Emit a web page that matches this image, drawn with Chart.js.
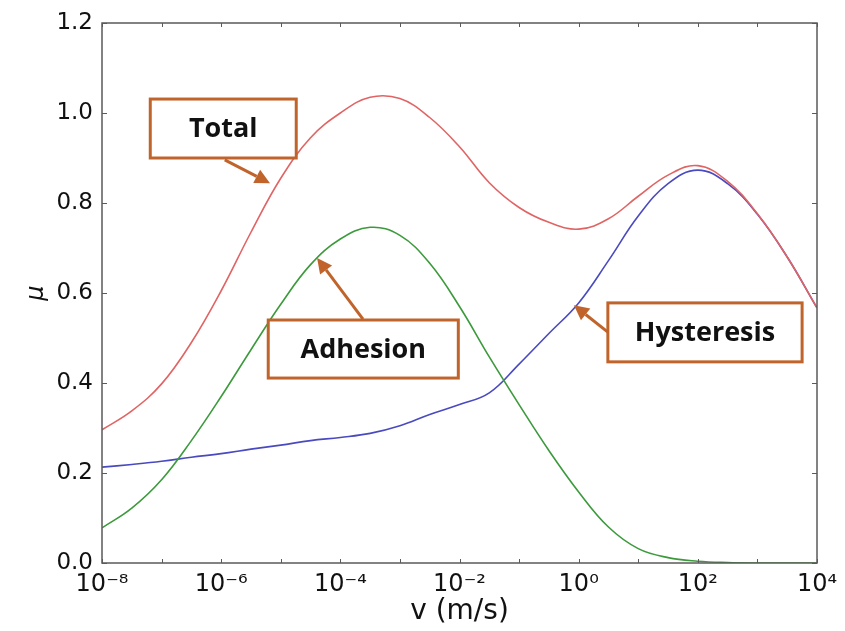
<!DOCTYPE html>
<html>
<head>
<meta charset="utf-8">
<script src="https://cdn.jsdelivr.net/npm/chart.js@4/dist/chart.umd.min.js"></script>
<style>
html,body{margin:0;padding:0;background:#ffffff;}
#wrap{width:845px;height:631px;}
</style>
</head>
<body>
<div id="wrap"><canvas id="c" width="845" height="631"></canvas></div>
<script>
// ---- data (x given as log10 of v in m/s) ----
const vExp = [-8,-7.5,-7,-6.5,-6,-5.5,-5,-4.5,-4,-3.5,-3,-2.5,-2,-1.5,-1,-0.5,0,0.5,1,1.5,2,2.5,3,3.5,4];
const total      = [0.296,0.338,0.398,0.490,0.605,0.735,0.855,0.945,1.000,1.035,1.032,0.990,0.925,0.845,0.790,0.757,0.742,0.765,0.815,0.862,0.883,0.848,0.776,0.680,0.567];
const adhesion   = [0.078,0.122,0.185,0.272,0.370,0.474,0.575,0.663,0.720,0.746,0.728,0.666,0.570,0.458,0.352,0.250,0.158,0.080,0.032,0.012,0.004,0.001,0.000,0.000,0.000];
const hysteresis = [0.213,0.219,0.226,0.235,0.243,0.253,0.262,0.272,0.279,0.288,0.305,0.330,0.352,0.378,0.442,0.510,0.578,0.672,0.771,0.843,0.873,0.843,0.775,0.680,0.567];
const seriesNames = ['Total','Adhesion','Hysteresis'];

const xTickExp = [-8,-7,-6,-5,-4,-3,-2,-1,0,1,2,3,4];
const xTickLabels = {'-8':'10⁻⁸','-6':'10⁻⁶','-4':'10⁻⁴','-2':'10⁻²','0':'10⁰','2':'10²','4':'10⁴'};
const yTicks = [0,0.2,0.4,0.6,0.8,1.0,1.2];

// annotation callouts, anchored in data units (log10 v, mu)
const notes = [
  {text:'Total',      box:[-7.19,-4.74,1.031,0.900], from:[-5.94,0.896], to:[-5.18,0.844]},
  {text:'Adhesion',   box:[-5.21,-2.02,0.540,0.411], from:[-3.62,0.542], to:[-4.39,0.678]},
  {text:'Hysteresis', box:[ 0.49, 3.75,0.578,0.447], from:[ 0.49,0.513], to:[-0.08,0.573]}
];

const pts = arr => vExp.map((e,i)=>({x:Math.pow(10,e), y:arr[i]}));

const frameTicks = {
  id:'frameTicks',
  afterDraw(chart){
    const {ctx, chartArea:a, scales:{x,y}} = chart;
    ctx.save();
    ctx.strokeStyle = '#5a5a5a';
    ctx.lineWidth = 1.5;
    ctx.strokeRect(a.left, a.top, a.right-a.left, a.bottom-a.top);
    ctx.lineWidth = 1;
    ctx.beginPath();
    xTickExp.forEach(e=>{
      const px = Math.round(x.getPixelForValue(Math.pow(10,e)))+0.5;
      ctx.moveTo(px,a.bottom); ctx.lineTo(px,a.bottom-4);
      ctx.moveTo(px,a.top); ctx.lineTo(px,a.top+4);
    });
    yTicks.forEach(v=>{
      const py = Math.round(y.getPixelForValue(v))+0.5;
      ctx.moveTo(a.left,py); ctx.lineTo(a.left+5,py);
      ctx.moveTo(a.right,py); ctx.lineTo(a.right-5,py);
    });
    ctx.stroke();
    ctx.restore();
  }
};

const callouts = {
  id:'callouts',
  afterDatasetsDraw(chart){
    const {ctx, scales:{x,y}} = chart;
    const X = e => x.getPixelForValue(Math.pow(10,e));
    const Y = v => y.getPixelForValue(v);
    const col = '#c0642c';
    ctx.save();
    notes.forEach(n=>{
      const x1=X(n.from[0]), y1=Y(n.from[1]), x2=X(n.to[0]), y2=Y(n.to[1]);
      const ang = Math.atan2(y2-y1, x2-x1);
      const hl = 15, hw = 7.5;
      const bx = x2 - hl*Math.cos(ang), by = y2 - hl*Math.sin(ang);
      ctx.strokeStyle = col; ctx.fillStyle = col; ctx.lineWidth = 3;
      ctx.beginPath(); ctx.moveTo(x1,y1); ctx.lineTo(bx,by); ctx.stroke();
      ctx.beginPath();
      ctx.moveTo(x2,y2);
      ctx.lineTo(bx + hw*Math.sin(ang), by - hw*Math.cos(ang));
      ctx.lineTo(bx - hw*Math.sin(ang), by + hw*Math.cos(ang));
      ctx.closePath(); ctx.fill();
      const l=X(n.box[0]), r=X(n.box[1]), t=Y(n.box[2]), b=Y(n.box[3]);
      ctx.fillStyle = '#ffffff';
      ctx.fillRect(l,t,r-l,b-t);
      ctx.lineWidth = 3; ctx.strokeStyle = col;
      ctx.strokeRect(l,t,r-l,b-t);
      ctx.fillStyle = '#111';
      ctx.font = 'bold 27px "Open Sans"';
      ctx.textAlign = 'center'; ctx.textBaseline = 'middle';
      ctx.fillText(n.text, (l+r)/2, (t+b)/2+1);
    });
    ctx.restore();
  }
};

new Chart(document.getElementById('c'), {
  type:'line',
  data:{
    datasets:[
      {label:seriesNames[0], data:pts(total),      borderColor:'#e06464', borderWidth:1.6, pointRadius:0, tension:0.4, fill:false},
      {label:seriesNames[1], data:pts(adhesion),   borderColor:'#3c9a3c', borderWidth:1.6, pointRadius:0, tension:0.4, fill:false},
      {label:seriesNames[2], data:pts(hysteresis), borderColor:'#4a4ac0', borderWidth:1.6, pointRadius:0, tension:0.4, fill:false}
    ]
  },
  options:{
    responsive:false,
    animation:false,
    devicePixelRatio:1,
    layout:{padding:{top:23,right:28,left:0,bottom:0}},
    plugins:{legend:{display:false}, tooltip:{enabled:false}},
    scales:{
      x:{
        type:'logarithmic', position:'bottom', min:1e-8, max:1e4,
        grid:{display:false, drawTicks:false},
        border:{display:false},
        afterBuildTicks:s=>{ s.ticks = xTickExp.map(e=>({value:Math.pow(10,e)})); },
        afterFit:s=>{ s.height = 68; },
        ticks:{
          autoSkip:false, maxRotation:0, minRotation:0, padding:7,
          color:'#111', font:{family:'DejaVu Sans', size:24},
          callback:v=>{ const e=Math.round(Math.log10(v)); return xTickLabels[String(e)]||''; }
        },
        title:{display:true, text:'v (m/s)', color:'#111', font:{family:'DejaVu Sans', size:28}, padding:{top:0,bottom:2}}
      },
      y:{
        min:0, max:1.2,
        grid:{display:false, drawTicks:false},
        border:{display:false},
        afterBuildTicks:s=>{ s.ticks = yTicks.map(v=>({value:v})); },
        afterFit:s=>{ s.width = 102; },
        ticks:{
          padding:9, color:'#111', font:{family:'DejaVu Sans', size:23},
          callback:v=>Number(v).toFixed(1)
        },
        title:{display:true, text:'μ', color:'#111', font:{family:'DejaVu Sans', size:24, style:'italic'}, padding:{top:22,bottom:0}}
      }
    }
  },
  plugins:[frameTicks, callouts]
});
</script>
</body>
</html>
